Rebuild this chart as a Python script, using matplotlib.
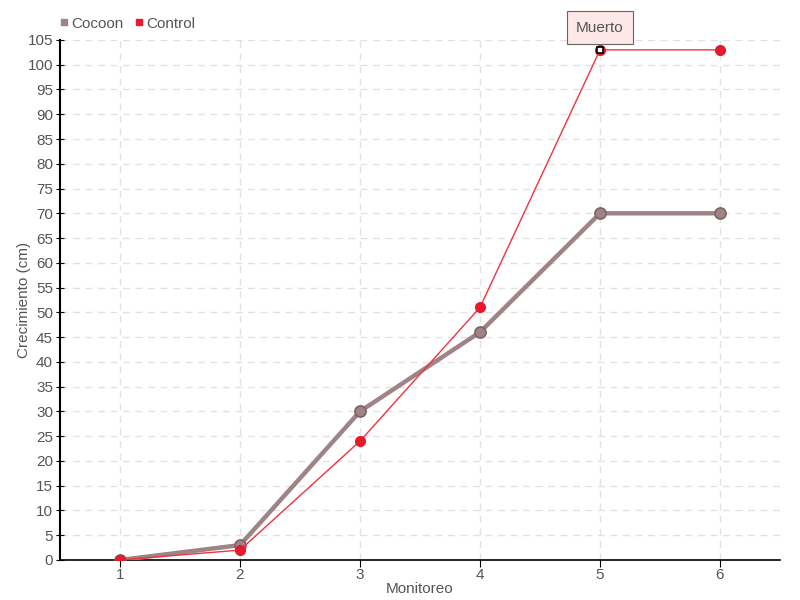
import matplotlib.pyplot as plt
from matplotlib.lines import Line2D

# data
monitoreo = [1, 2, 3, 4, 5, 6]
cocoon = [0, 3, 30, 46, 70, 70]
control = [0, 2, 24, 51, 103, 103]
yticks = list(range(0, 106, 5))

plt.rcParams['font.family'] = ['Liberation Sans', 'DejaVu Sans']

fig = plt.figure(figsize=(8, 6), dpi=100)
ax = fig.add_axes([0.075, 0.0667, 0.9, 0.8667])

# cocoon line
ax.plot(monitoreo, cocoon, color='#9e8487', lw=3.2, marker='o', ms=8,
        mfc='#9e8487', mec='#7c6466', mew=1.2, zorder=3)
# control line
ax.plot(monitoreo, control, color='#f0323f', lw=1, marker='o', ms=7,
        mfc='#e8192c', mec='#e8192c', zorder=4)
# highlighted point
ax.plot(monitoreo[4], control[4], marker='s', ms=5, mfc='white', mec='black',
        mew=1.2, zorder=5)

ax.annotate('Muerto', xy=(monitoreo[4], control[4]), xytext=(0, 16),
            textcoords='offset points', ha='center', va='center',
            fontsize=11, color='#555555',
            bbox=dict(boxstyle='square,pad=0.6', fc='#fde8e8', ec='#666666', lw=0.8))

ax.set_xlim(0.5, 6.5)
ax.set_ylim(0, 105)
ax.set_xticks(monitoreo)
ax.set_yticks(yticks)
ax.tick_params(axis='both', colors='black', labelcolor='#555555', labelsize=11)
ax.tick_params(axis='y', direction='inout', length=6, pad=2)
ax.tick_params(axis='x', direction='out', length=5, pad=1)

ax.grid(True, color='#e2e2e2', linestyle=(0, (5, 4)), lw=1)
ax.set_axisbelow(True)
for s in ['top', 'right']:
    ax.spines[s].set_visible(False)
ax.spines['left'].set_linewidth(1.5)
ax.spines['bottom'].set_linewidth(1.2)

ax.set_xlabel('Monitoreo', fontsize=11, color='#555555', labelpad=0)
ax.set_ylabel('Crecimiento (cm)', fontsize=11, color='#555555')
ax.yaxis.set_label_coords(-0.04, 0.5)

handles = [Line2D([], [], ls='none', marker='s', ms=5, color='#9e8487'),
           Line2D([], [], ls='none', marker='s', ms=5, color='#e8192c')]
fig.legend(handles, ['Cocoon', 'Control'], loc='upper left',
           bbox_to_anchor=(0.055, 0.995), ncol=2, frameon=False,
           handletextpad=0.1, columnspacing=0.6, handlelength=0.8,
           labelcolor='#555555', fontsize=11)

fig.savefig('out.png', dpi=100)
